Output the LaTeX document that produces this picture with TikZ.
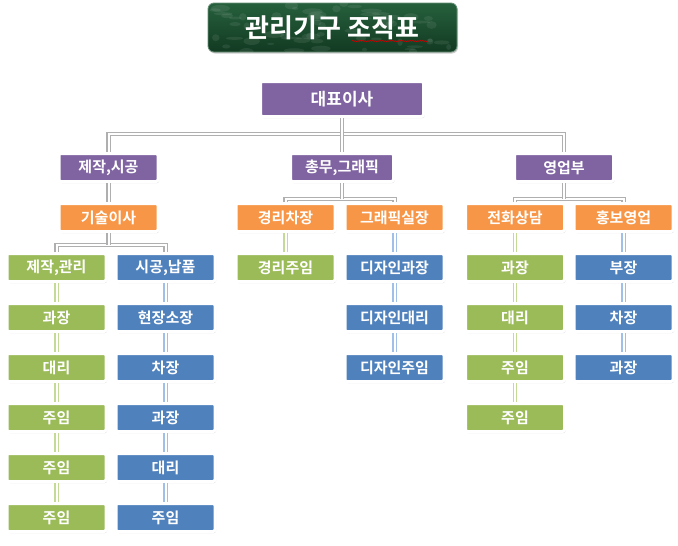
\documentclass[tikz,border=0pt]{standalone}
\usepackage{fontspec}
\setmainfont{Noto Sans CJK KR}[BoldFont = {Noto Sans CJK KR Bold}]
\usetikzlibrary{shadows,decorations.pathmorphing}
\definecolor{boxpurple}{RGB}{128,100,162}
\definecolor{boxorange}{RGB}{247,150,70}
\definecolor{boxgreen}{RGB}{155,187,89}
\definecolor{boxblue}{RGB}{79,129,189}
\definecolor{linegray}{RGB}{175,175,175}
\definecolor{linegreen}{RGB}{196,218,150}
\definecolor{lineblue}{RGB}{160,192,232}
\definecolor{titletop}{RGB}{38,96,60}
\definecolor{titlebot}{RGB}{18,58,34}
\tikzset{
	box/.style = {rectangle, rounded corners = 2pt, draw = white, line width = 3pt,
		minimum width = 99pt, minimum height = 28pt, inner sep = 0pt, text = white,
		font = \bfseries\fontsize{15}{17}\selectfont,
		drop shadow = {opacity = 0.35, shadow xshift = 1pt, shadow yshift = -1.5pt}},
	purplebox/.style = {box, fill = boxpurple},
	orangebox/.style = {box, fill = boxorange},
	greenbox/.style  = {box, fill = boxgreen},
	bluebox/.style   = {box, fill = boxblue},
	grayline/.style  = {draw = linegray, double = white, double distance = 2pt, line width = 1.2pt},
	greenline/.style = {draw = linegreen, double = white, double distance = 2pt, line width = 1.2pt},
	blueline/.style  = {draw = lineblue, double = white, double distance = 2pt, line width = 1.2pt}
}
\begin{document}
\begin{tikzpicture}[x = 1pt, y = -1pt]
	\useasboundingbox (0,0) rectangle (678,546);
	\node[rectangle, rounded corners = 6pt, top color = titletop, bottom color = titlebot,
		draw = titletop!70!white, line width = 0.8pt, minimum width = 249pt, minimum height = 49pt,
		drop shadow = {opacity = 0.4, shadow xshift = 1pt, shadow yshift = -1.5pt}]
		(title) at (332.5,27.5) {};
	\begin{scope}
		\clip[rounded corners = 6pt] (title.south west) rectangle (title.north east);
		\pgfmathsetseed{7}
		\foreach \i in {1,...,60}
			\fill[white, opacity = 0.08] (208 + 249*rnd, 3 + 49*rnd) ellipse ({2 + 9*rnd} and {1 + 3*rnd});
	\end{scope}
	\node[text = white, font = \bfseries\fontsize{26}{30}\selectfont] (titletext) at (title) {관리기구 조직표};
	\draw[red!80!black, line width = 0.5pt, decorate,
		decoration = {snake, amplitude = 0.7pt, segment length = 2.5pt}] (352,41) -- (428,41);

	\node[purplebox, minimum width = 163pt, minimum height = 35pt,
		font = \bfseries\fontsize{17}{20}\selectfont] (ceo) at (342,99) {대표이사};
	\node[purplebox] (mfg)   at (108.5,167.5) {제작,시공};
	\node[purplebox, minimum width = 103pt] (gen) at (342,167.5) {총무,그래픽};
	\node[purplebox] (sales) at (564,167.5) {영업부};

	\node[orangebox] (tech) at (108.5,217.5) {기술이사};
	\node[orangebox] (acct) at (285.5,217.5) {경리차장};
	\node[orangebox] (gfx)  at (394.5,217.5) {그래픽실장};
	\node[orangebox] (tel)  at (515,217.5)   {전화상담};
	\node[orangebox] (pr)   at (623.5,217.5) {홍보영업};

	\node[greenbox] (a1) at (56.5,267.5) {제작,관리};
	\node[greenbox] (a2) at (56.5,317.5) {과장};
	\node[greenbox] (a3) at (56.5,367.5) {대리};
	\node[greenbox] (a4) at (56.5,417.5) {주임};
	\node[greenbox] (a5) at (56.5,467.5) {주임};
	\node[greenbox] (a6) at (56.5,517.5) {주임};

	\node[bluebox] (b1) at (165.5,267.5) {시공,납품};
	\node[bluebox] (b2) at (165.5,317.5) {현장소장};
	\node[bluebox] (b3) at (165.5,367.5) {차장};
	\node[bluebox] (b4) at (165.5,417.5) {과장};
	\node[bluebox] (b5) at (165.5,467.5) {대리};
	\node[bluebox] (b6) at (165.5,517.5) {주임};

	\node[greenbox] (c1) at (285.5,267.5) {경리주임};

	\node[bluebox] (d1) at (394.5,267.5) {디자인과장};
	\node[bluebox] (d2) at (394.5,317.5) {디자인대리};
	\node[bluebox] (d3) at (394.5,367.5) {디자인주임};

	\node[greenbox] (e1) at (515,267.5) {과장};
	\node[greenbox] (e2) at (515,317.5) {대리};
	\node[greenbox] (e3) at (515,367.5) {주임};
	\node[greenbox] (e4) at (515,417.5) {주임};

	\node[bluebox] (f1) at (623.5,267.5) {부장};
	\node[bluebox] (f2) at (623.5,317.5) {차장};
	\node[bluebox] (f3) at (623.5,367.5) {과장};

	\draw[grayline] (mfg.north) -- ++(0,-18) -| (sales.north);
	\draw[grayline] (ceo) -- (gen);
	\draw[grayline] (mfg) -- (tech);
	\draw[grayline] (a1.north) -- ++(0,-7) -| (b1.north);
	\draw[grayline] (tech.south) -- ++(0,12);
	\draw[grayline] (acct.north) -- ++(0,-3) -| (gfx.north);
	\draw[grayline] (gen.south) -- ++(0,16);
	\draw[grayline] (tel.north) -- ++(0,-3) -| (pr.north);
	\draw[grayline] (sales.south) -- ++(0,16);

	\draw[greenline] (a1) -- (a2);
	\draw[greenline] (a2) -- (a3);
	\draw[greenline] (a3) -- (a4);
	\draw[greenline] (a4) -- (a5);
	\draw[greenline] (a5) -- (a6);
	\draw[blueline] (b1) -- (b2);
	\draw[blueline] (b2) -- (b3);
	\draw[blueline] (b3) -- (b4);
	\draw[blueline] (b4) -- (b5);
	\draw[blueline] (b5) -- (b6);
	\draw[greenline] (acct) -- (c1);
	\draw[blueline] (gfx) -- (d1);
	\draw[blueline] (d1) -- (d2);
	\draw[blueline] (d2) -- (d3);
	\draw[greenline] (tel) -- (e1);
	\draw[greenline] (e1) -- (e2);
	\draw[greenline] (e2) -- (e3);
	\draw[greenline] (e3) -- (e4);
	\draw[blueline] (pr) -- (f1);
	\draw[blueline] (f1) -- (f2);
	\draw[blueline] (f2) -- (f3);
\end{tikzpicture}
\end{document}
